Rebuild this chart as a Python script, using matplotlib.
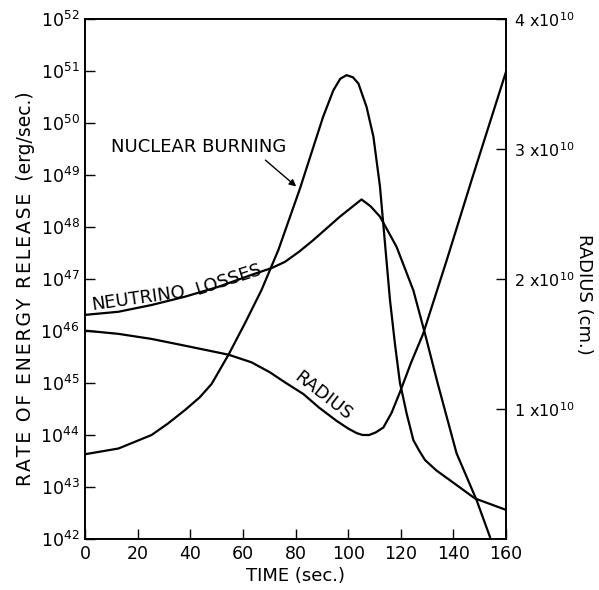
import matplotlib.pyplot as plt
import numpy as np

# nuclear burning rate, log10(erg/sec)
nuclear_t = [0, 12.7, 25.3, 31.5, 38, 43.5, 48.1, 54.5, 60.8, 67.1, 73.5,
             81.7, 86.8, 90.5, 94.4, 97, 99.4, 101.8, 103.9, 107, 109.6,
             112.1, 114, 115.9, 117.8, 119.7, 120.8, 122.2, 124.8, 127,
             129.2, 133.5, 138.7, 148.2, 160]
nuclear_log10 = [43.63, 43.74, 44.0, 44.22, 44.48, 44.72, 44.98, 45.54,
                 46.15, 46.79, 47.56, 48.74, 49.54, 50.12, 50.63, 50.85,
                 50.92, 50.88, 50.76, 50.31, 49.74, 48.78, 47.69, 46.6,
                 45.75, 45.0, 44.75, 44.42, 43.90, 43.7, 43.52, 43.32,
                 43.13, 42.78, 42.56]

# neutrino losses, log10(erg/sec)
neutrino_t = [0, 12.7, 25.3, 38, 50.7, 63.3, 70.9, 76, 81.5, 86.8, 96.9,
              105.1, 108.5, 112.1, 118.4, 124.8, 129.2, 134, 141.2, 148.8,
              153.9]
neutrino_log10 = [46.31, 46.37, 46.5, 46.66, 46.85, 47.08, 47.21, 47.33,
                  47.53, 47.75, 48.20, 48.53, 48.4, 48.20, 47.62, 46.78,
                  45.95, 45.0, 43.65, 42.75, 42.04]

# radius, units of 1e10 cm
radius_t = [0, 12.7, 25.3, 38, 54.5, 63.3, 70.3, 76, 83, 89, 95.6, 100,
            103.2, 105.5, 108, 110.5, 113.4, 116.5, 119.7, 124, 128.5,
            137.4, 146.9, 160]
radius_1e10 = [1.603, 1.578, 1.539, 1.487, 1.418, 1.359, 1.282, 1.205,
               1.115, 1.01, 0.909, 0.85, 0.815, 0.80, 0.80, 0.82, 0.858,
               0.97, 1.13, 1.36, 1.578, 2.14, 2.759, 3.594]

time_ticks = [0, 20, 40, 60, 80, 100, 120, 140, 160]
radius_ticks = [1, 2, 3, 4]
radius_labels = ['1 x10$^{10}$', '2 x10$^{10}$', '3 x10$^{10}$', '4 x10$^{10}$']


def spaced(s):
    # letter spacing like the lettering stencil
    return '\u200a'.join(s)


def main():
    fig = plt.figure(figsize=(5.99, 5.90), dpi=100)
    ax = fig.add_axes([85 / 599, 51 / 590, 421 / 599, 520 / 590])

    ax.plot(nuclear_t, 10.0 ** np.array(nuclear_log10), 'k', lw=1.6)
    ax.plot(neutrino_t, 10.0 ** np.array(neutrino_log10), 'k', lw=1.6)
    ax.set_yscale('log')
    ax.set_xlim(0, 160)
    ax.set_ylim(1e42, 1e52)
    ax.set_yticks([10.0 ** k for k in range(42, 53)])
    ax.minorticks_off()
    ax.set_xticks(time_ticks)
    ax.tick_params(direction='in', length=7, width=1, labelsize=12.5, pad=4)

    ax2 = ax.twinx()
    ax2.plot(radius_t, np.array(radius_1e10) * 1e10, 'k', lw=1.6)
    ax2.set_ylim(0, 4e10)
    ax2.set_yticks([v * 1e10 for v in radius_ticks])
    ax2.set_yticklabels(radius_labels)
    ax2.tick_params(direction='in', length=7, width=1, labelsize=11.5, pad=6)

    for a in (ax, ax2):
        for s in a.spines.values():
            s.set_linewidth(1.2)

    ax.set_xlabel('TIME (sec.)', fontsize=13, labelpad=3)
    fig.text(26 / 599, 1 - 289 / 590,
             spaced('RATE OF ENERGY RELEASE') + '  (erg/sec.)',
             rotation=90, ha='center', va='center', fontsize=13.5)
    fig.text(584 / 599, 1 - 294 / 590, 'RADIUS (cm.)', rotation=-90,
             ha='center', va='center', fontsize=13)

    ax.text(0.269, 0.753, 'NUCLEAR BURNING', transform=ax.transAxes,
            ha='center', va='center', fontsize=13)
    ax.annotate('', xy=(0.5067, 0.6744), xytext=(0.4235, 0.7321),
                xycoords='axes fraction', textcoords='axes fraction',
                arrowprops=dict(arrowstyle='-|>', color='k', lw=1,
                                mutation_scale=10))
    ax.text(0.1266, 0.4629, 'NEUTRINO', transform=ax.transAxes,
            ha='center', va='center', fontsize=13, rotation=8)
    ax.text(0.3404, 0.498, 'LOSSES', transform=ax.transAxes,
            ha='center', va='center', fontsize=13, rotation=18)
    ax.text(0.565, 0.275, 'RADIUS', transform=ax.transAxes,
            ha='center', va='center', fontsize=13, rotation=-38)

    fig.savefig('out.png', dpi=100)


if __name__ == '__main__':
    main()
